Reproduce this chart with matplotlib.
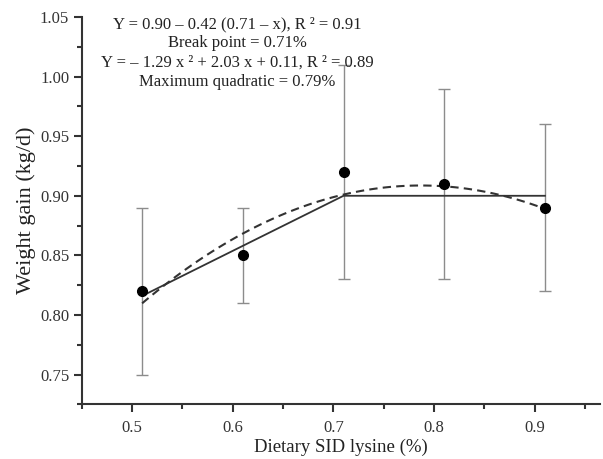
import numpy as np
import matplotlib
matplotlib.use("Agg")
import matplotlib.pyplot as plt
from matplotlib.ticker import MultipleLocator

plt.rcParams["font.family"] = ["Liberation Serif", "DejaVu Serif"]

# observed means and errors
lysine = [0.51, 0.61, 0.71, 0.81, 0.91]
gain = [0.82, 0.85, 0.92, 0.91, 0.89]
err = [0.07, 0.04, 0.09, 0.08, 0.07]

# fitted models as printed in the figure
bp_plateau, bp_slope, bp_x = 0.90, 0.42, 0.71
quad_a, quad_b, quad_c = -1.29, 2.03, 0.11

eq_lines = [
    "Y = 0.90 \u2013 0.42 (0.71 \u2013 x), R \u00b2 = 0.91",
    "Break point = 0.71%",
    "Y = \u2013 1.29 x \u00b2 + 2.03 x + 0.11, R \u00b2 = 0.89",
    "Maximum quadratic = 0.79%",
]

fig = plt.figure(figsize=(6.03, 4.59), dpi=100)
ax = fig.add_axes([0.1355, 0.119, 0.86, 0.844])

ax.errorbar(lysine, gain, yerr=err, fmt="none", ecolor="#8c8c8c",
            elinewidth=1.0, capsize=4, capthick=1.0, zorder=1)

xs = np.array([lysine[0], bp_x, lysine[-1]])
ys = bp_plateau - bp_slope * np.clip(bp_x - xs, 0, None)
ax.plot(xs, ys, color="#333333", lw=1.3, zorder=2)

xq = np.linspace(lysine[0], lysine[-1], 100)
yq = quad_a * xq ** 2 + quad_b * xq + quad_c
ax.plot(xq, yq, color="#333333", lw=1.5, ls=(0, (4, 2.5)), zorder=2)

ax.plot(lysine, gain, "o", color="black", ms=7, zorder=3)

ax.set_xlim(0.45, 0.965)
ax.set_ylim(0.725, 1.05)
ax.xaxis.set_minor_locator(MultipleLocator(0.05))
ax.yaxis.set_minor_locator(MultipleLocator(0.025))
ax.set_xticks([0.5, 0.6, 0.7, 0.8, 0.9])
ax.set_xticklabels(["0.5", "0.6", "0.7", "0.8", "0.9"])
ax.set_yticks([0.75, 0.80, 0.85, 0.90, 0.95, 1.00, 1.05])
ax.set_yticklabels(["0.75", "0.80", "0.85", "0.90", "0.95", "1.00", "1.05"])

for s in ["top", "right"]:
    ax.spines[s].set_visible(False)
for s in ["left", "bottom"]:
    ax.spines[s].set_linewidth(1.5)
    ax.spines[s].set_color("#333333")

ax.tick_params(which="major", direction="out", length=6, width=1.5,
               labelsize=12, colors="#333333")
ax.tick_params(axis="x", which="major", pad=5)
ax.tick_params(axis="y", which="major", pad=3)
ax.tick_params(which="minor", direction="out", length=3.5, width=1.5,
               colors="#333333")

ax.set_xlabel("Dietary SID lysine (%)", fontsize=13.5, color="#222222", labelpad=2)
ax.set_ylabel("Weight gain (kg/d)", fontsize=16, color="#222222", labelpad=3)

for i, line in enumerate(eq_lines):
    ax.text(0.30, 0.982 - i * 0.050, line, transform=ax.transAxes,
            ha="center", va="center", fontsize=12, color="#222222")

fig.savefig("out.png", dpi=100)
